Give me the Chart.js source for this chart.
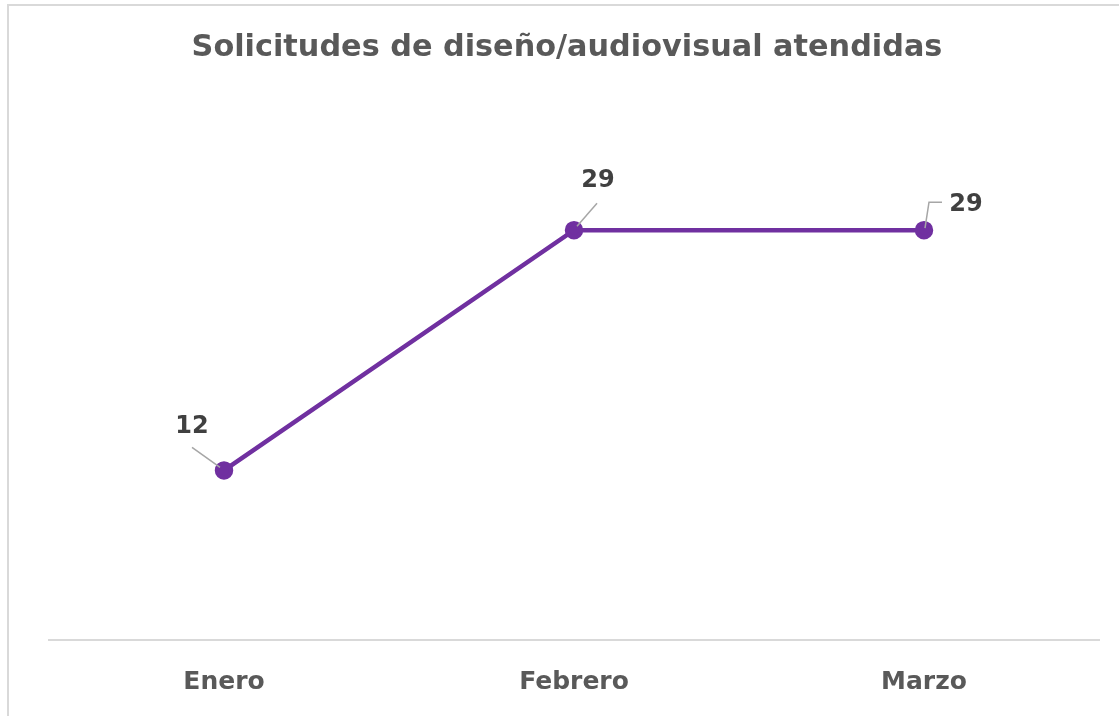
<!DOCTYPE html>
<html>
<head>
<meta charset="utf-8">
<script src="https://cdn.jsdelivr.net/npm/chart.js@4.4.0/dist/chart.umd.min.js"></script>
<style>
  html, body { margin: 0; padding: 0; background: #fff; overflow: hidden; }
  #marco { position: absolute; left: 7px; top: 4px; width: 1200px; height: 800px; border: 2px solid #d9d9d9; }
  #grafico { position: absolute; left: 0; top: 0; }
</style>
</head>
<body>
<div id="marco"></div>
<canvas id="grafico" width="1119" height="716"></canvas>
<script>
// Solicitudes atendidas por mes
const meses = ['Enero', 'Febrero', 'Marzo'];
const solicitudes = [12, 29, 29];
const ejeY = { min: 0, max: 35 };

// donde va cada etiqueta respecto a su punto (dx, dy) y el quiebre de la linea guia
const etiquetas = [
    { dx: -32, dy: -44, guia: [[-32, -23], [-4, -3]] },
    { dx: 24, dy: -49, guia: [[23, -27], [3, -4]] },
    { dx: 42, dy: -25, guia: [[18, -28], [5, -28], [1, -2]] }
];

const morado = '#7030A0';
const fuente = "'DejaVu Sans', 'Liberation Sans', Arial, sans-serif";

const etiquetasPlugin = {
    id: 'etiquetas',
    afterDatasetsDraw(chart) {
        const ctx = chart.ctx;
        const meta = chart.getDatasetMeta(0);
        meta.data.forEach((p, i) => {
            const e = etiquetas[i];
            ctx.save();
            ctx.strokeStyle = '#a6a6a6';
            ctx.lineWidth = 1.5;
            ctx.beginPath();
            e.guia.forEach((g, j) => {
                if (j === 0) ctx.moveTo(p.x + g[0], p.y + g[1]);
                else ctx.lineTo(p.x + g[0], p.y + g[1]);
            });
            ctx.stroke();
            ctx.fillStyle = '#404040';
            ctx.font = 'bold 24px ' + fuente;
            ctx.textAlign = 'center';
            ctx.textBaseline = 'middle';
            ctx.fillText(solicitudes[i], p.x + e.dx, p.y + e.dy);
            ctx.restore();
        });
    }
};

let lienzo = document.getElementById('grafico').getContext('2d');

var chart = new Chart(lienzo, {
    type: 'line',
    data: {
        labels: meses,
        datasets: [
            {
                label: 'Solicitudes',
                data: solicitudes,
                borderColor: morado,
                backgroundColor: morado,
                borderWidth: 4.5,
                pointRadius: 7,
                pointHoverRadius: 7,
                pointBackgroundColor: morado,
                pointBorderColor: morado,
                tension: 0
            }
        ]
    },
    options: {
        responsive: false,
        animation: false,
        layout: { padding: { left: 35, right: 20, top: 0, bottom: -8 } },
        plugins: {
            legend: { display: false },
            tooltip: { enabled: false },
            title: {
                display: true,
                text: 'Solicitudes de diseño/audiovisual atendidas',
                color: '#595959',
                font: { family: fuente, size: 30.3, weight: 'bold', lineHeight: 1.2 },
                padding: { top: 30, bottom: 79 }
            }
        },
        scales: {
            x: {
                offset: true,
                grid: { display: false, drawTicks: false },
                border: { display: true, color: '#d9d9d9', width: 2 },
                ticks: {
                    color: '#595959',
                    padding: 27,
                    font: { family: fuente, size: 25, weight: 'bold' }
                }
            },
            y: {
                display: true,
                min: ejeY.min,
                max: ejeY.max,
                grid: { display: false, drawTicks: false },
                border: { display: false },
                ticks: { display: false },
                afterFit(scale) { scale.width = 14; }
            }
        }
    },
    plugins: [etiquetasPlugin]
});
</script>
</body>
</html>
